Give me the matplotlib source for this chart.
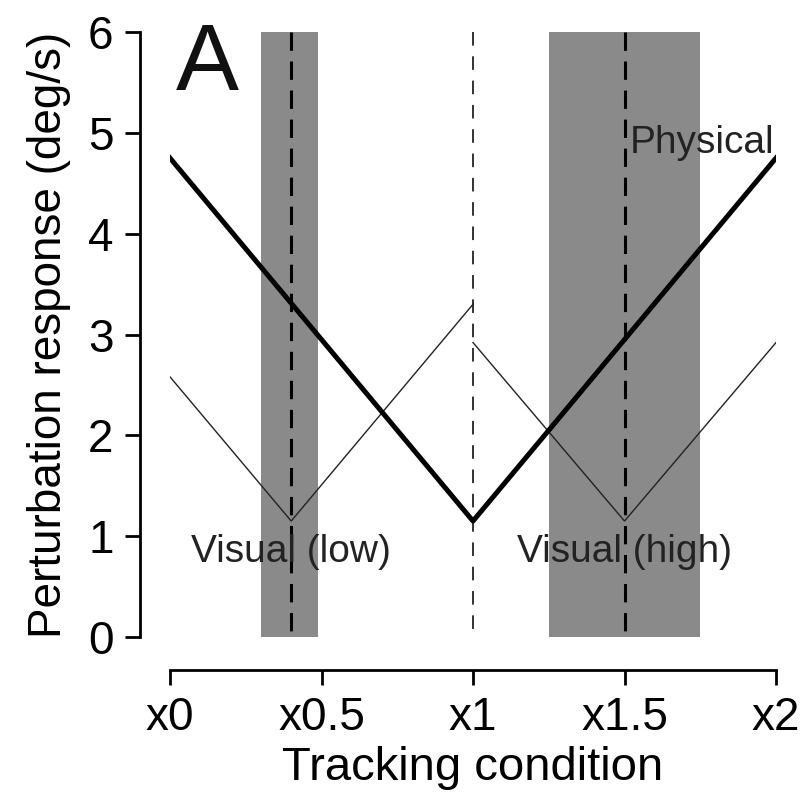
import matplotlib
matplotlib.use('Agg')
import matplotlib.pyplot as plt

# Valores
x_pts = [0, 1, 2]
physical = [4.75, 1.15, 4.75]
x_low = [0, 0.4, 1]
visual_low = [2.58, 1.15, 3.3]
x_high = [1, 1.5, 2]
visual_high = [2.92, 1.15, 2.92]

bands = [(0.3, 0.49), (1.25, 1.75)]
dashed_pos = [0.4, 1.5]
center_pos = 1.0

tick_pos = [0, 0.5, 1, 1.5, 2]
tick_labels = ['x0', 'x0.5', 'x1', 'x1.5', 'x2']

plt.rcParams['font.family'] = ['Liberation Sans', 'DejaVu Sans']

fig = plt.figure(figsize=(8.07, 8.11), dpi=100)
W, H = 807, 811
ax = fig.add_axes([170 / W, 1 - 637 / H, (776 - 170) / W, (637 - 32) / H])

for a, b in bands:
    ax.axvspan(a, b, color='#8a8a8a', lw=0, zorder=1)

for xp in dashed_pos:
    ax.plot([xp, xp], [6, 0], color='black', lw=2.2, ls=(0, (6, 3.5)), zorder=2)
ax.plot([center_pos, center_pos], [6, 0], color='#333333', lw=1.4, ls=(0, (7, 5.5)), zorder=2)

ax.plot(x_pts, physical, color='black', lw=3.6, zorder=4)
ax.plot(x_low, visual_low, color='#222222', lw=1.0, zorder=3)
ax.plot(x_high, visual_high, color='#222222', lw=1.0, zorder=3)

ax.text(0.4, 0.74, 'Visual (low)', ha='center', va='baseline', fontsize=28, color='#222222', zorder=5)
ax.text(1.5, 0.74, 'Visual (high)', ha='center', va='baseline', fontsize=28, color='#222222', zorder=5)
ax.text(1.518, 4.8, 'Physical', ha='left', va='baseline', fontsize=28, color='#222222', zorder=5)
ax.text(0.02, 5.42, 'A', ha='left', va='baseline', fontsize=68, color='#111111', zorder=5)

ax.set_xlim(0, 2)
ax.set_ylim(0, 6)
ax.set_xticks(tick_pos)
ax.set_xticklabels(tick_labels)
ax.set_yticks(range(7))

ax.spines['top'].set_visible(False)
ax.spines['right'].set_visible(False)
ax.spines['left'].set_position(('outward', 21.6))
ax.spines['bottom'].set_position(('outward', 23.8))
ax.spines['left'].set_linewidth(2)
ax.spines['bottom'].set_linewidth(2)
ax.tick_params(axis='both', length=11, width=2, labelsize=33, pad=8)

ax.set_xlabel('Tracking condition', fontsize=34, labelpad=4)
ax.set_ylabel('Perturbation response (deg/s)', fontsize=33, labelpad=12)

fig.savefig('out.png', dpi=100)
